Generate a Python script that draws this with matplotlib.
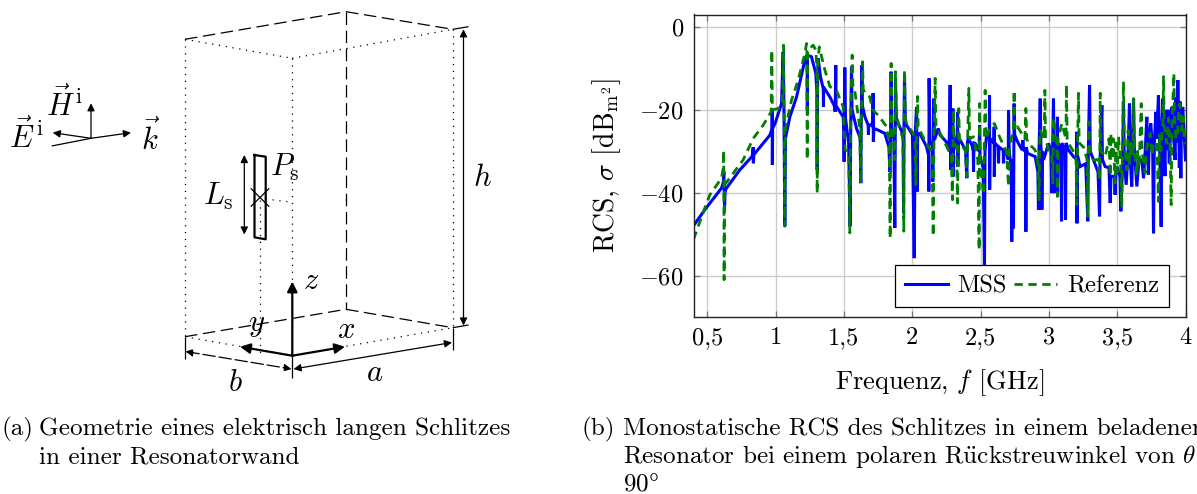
import matplotlib
matplotlib.use("Agg")
import matplotlib.pyplot as plt

plt.rcParams["font.family"] = ["cmr10", "Liberation Serif", "DejaVu Serif"]
plt.rcParams["mathtext.fontset"] = "cm"
plt.rcParams["axes.unicode_minus"] = False
plt.rcParams["axes.formatter.use_mathtext"] = True

# RCS curves: (f in GHz, sigma in dB)
mss = [(0.4, -48), (0.483, -44.1), (0.605, -38.9), (0.618, -37.5), (0.622, -34.9), (0.624, -38), (0.627, -43.7),
       (0.631, -40), (0.637, -39.1), (0.739, -34.5), (0.83, -31.2), (0.837, -29), (0.838, -32.9), (0.842, -30.8),
       (0.959, -26.1), (0.975, -24.5), (0.976, -20), (0.977, -33.3), (0.979, -24.5), (1.0, -23), (1.044, -18.5),
       (1.056, -6), (1.062, -20), (1.068, -48.1), (1.073, -27), (1.08, -25.7), (1.105, -21.7), (1.154, -16.9),
       (1.215, -8), (1.232, -6.8), (1.233, -20), (1.234, -6.8), (1.263, -7.2), (1.295, -11.2), (1.303, -16),
       (1.305, -34.5), (1.307, -16), (1.312, -7.6), (1.329, -12), (1.35, -15), (1.351, -19.3), (1.352, -14.5),
       (1.398, -16.9), (1.43, -19), (1.437, -20.5), (1.441, -9.2), (1.443, -19), (1.495, -21.7), (1.501, -25),
       (1.502, -32.5), (1.503, -25), (1.507, -9.8), (1.512, -22), (1.535, -28), (1.546, -48.1), (1.55, -26),
       (1.556, -9.6), (1.56, -20), (1.593, -24.5), (1.62, -26.9), (1.624, -37.7), (1.627, -24), (1.632, -9.2),
       (1.636, -19), (1.654, -21.7), (1.678, -23.7), (1.68, -26), (1.682, -24), (1.7, -23.5), (1.712, -24),
       (1.714, -16), (1.716, -27.7), (1.72, -24.5), (1.751, -24.9), (1.8, -25.7), (1.83, -29), (1.837, -35),
       (1.841, -28), (1.846, -10.8), (1.85, -25), (1.866, -27), (1.873, -48.5), (1.876, -26), (1.878, -12.8),
       (1.884, -22), (1.898, -23.3), (1.934, -26), (1.937, -44.9), (1.94, -25), (1.944, -11.6), (1.95, -23),
       (1.959, -23.7), (2.002, -26), (2.015, -55.8), (2.022, -26), (2.032, -19.3), (2.034, -27), (2.037, -39.7),
       (2.04, -26), (2.056, -25.7), (2.105, -28.9), (2.12, -31), (2.122, -39.7), (2.124, -12.4), (2.13, -28),
       (2.148, -28), (2.151, -37.3), (2.155, -26), (2.159, -17.3), (2.163, -27), (2.166, -27), (2.19, -24.5),
       (2.205, -26.1), (2.249, -27.7), (2.27, -30), (2.278, -14), (2.281, -28), (2.283, -34.5), (2.29, -26),
       (2.298, -19.7), (2.299, -36.1), (2.304, -27), (2.315, -28.1), (2.33, -26), (2.332, -20.5), (2.334, -33.7),
       (2.338, -27), (2.351, -27.3), (2.39, -29.7), (2.4, -36.5), (2.404, -28), (2.41, -26.9), (2.437, -28.5),
       (2.447, -30), (2.449, -34.9), (2.452, -28), (2.461, -28.1), (2.49, -30), (2.493, -23.7), (2.496, -31.3),
       (2.52, -34), (2.529, -57.8), (2.533, -30), (2.545, -26), (2.564, -27), (2.566, -16.5), (2.567, -39.3),
       (2.57, -27), (2.598, -28), (2.6, -24.1), (2.601, -36.1), (2.605, -28), (2.63, -28.9), (2.632, -32.9),
       (2.635, -29), (2.666, -29.7), (2.668, -32.9), (2.672, -30), (2.69, -30.5), (2.703, -32), (2.705, -20.1),
       (2.71, -30), (2.725, -34), (2.729, -51.8), (2.733, -32), (2.741, -48.6), (2.744, -28), (2.746, -18.5),
       (2.75, -26), (2.771, -27.7), (2.805, -29.7), (2.81, -27.3), (2.815, -29.7), (2.83, -30), (2.832, -49.4),
       (2.835, -29), (2.844, -30.5), (2.9, -31.3), (2.92, -35), (2.924, -44.1), (2.928, -30), (2.937, -17.3),
       (2.942, -29), (2.948, -31), (2.949, -44.1), (2.952, -30), (2.961, -32.1), (2.998, -28.1), (3.015, -30),
       (3.022, -40.1), (3.028, -29), (3.034, -17.3), (3.037, -30), (3.039, -40.1), (3.043, -29), (3.06, -28),
       (3.063, -21.7), (3.064, -40.9), (3.068, -28), (3.09, -30), (3.093, -46.9), (3.096, -28), (3.118, -30),
       (3.122, -46.5), (3.126, -28), (3.144, -29.7), (3.18, -31.3), (3.203, -32), (3.205, -25.3), (3.206, -47.4),
       (3.21, -31), (3.229, -33.7), (3.27, -33), (3.285, -46.9), (3.289, -30), (3.298, -14), (3.303, -30),
       (3.327, -32.1), (3.36, -35), (3.371, -45.7), (3.375, -32), (3.388, -18.9), (3.392, -32), (3.412, -33.7),
       (3.44, -34), (3.449, -42.5), (3.455, -36), (3.461, -36.1), (3.48, -36), (3.485, -40.5), (3.49, -36),
       (3.498, -33.7), (3.52, -36), (3.527, -44.5), (3.54, -33), (3.546, -18.1), (3.552, -32), (3.566, -38.1),
       (3.58, -30), (3.59, -18.5), (3.595, -32), (3.607, -38.5), (3.612, -30), (3.62, -17.3), (3.626, -30),
       (3.644, -38.5), (3.66, -32), (3.68, -32.1), (3.693, -36.5), (3.705, -30), (3.717, -21.7), (3.722, -30),
       (3.729, -35.7), (3.735, -26), (3.746, -23.3), (3.76, -30), (3.766, -49.8), (3.772, -28), (3.783, -20.5),
       (3.79, -27), (3.802, -16.5), (3.81, -27), (3.822, -48.2), (3.827, -26), (3.834, -17.3), (3.84, -25),
       (3.85, -36), (3.855, -20), (3.863, -29.7), (3.875, -20), (3.88, -33), (3.9, -19.3), (3.91, -25),
       (3.924, -32.1), (3.93, -17), (3.935, -28), (3.944, -12.8), (3.95, -22), (3.955, -34), (3.96, -18),
       (3.966, -36.5), (3.97, -22), (3.98, -19.3), (3.99, -26), (4.0, -32.1)]
ref = [(0.4, -51.3), (0.483, -43.7), (0.52, -40.5), (0.605, -36.5), (0.618, -34), (0.62, -29.8), (0.622, -36),
       (0.624, -61), (0.628, -38), (0.637, -37.7), (0.7, -34.9), (0.763, -32.1), (0.837, -26.9), (0.91, -23.7),
       (0.968, -20.5), (0.973, -5.6), (0.977, -20), (1.02, -19.7), (1.05, -18), (1.059, -4.4), (1.063, -20),
       (1.068, -48.1), (1.073, -25), (1.08, -23.3), (1.117, -17.7), (1.166, -12.8), (1.215, -6.4), (1.227, -4),
       (1.23, -6), (1.232, -32), (1.235, -6), (1.25, -5.2), (1.276, -4.4), (1.295, -5.6), (1.303, -10),
       (1.305, -40.1), (1.308, -10), (1.32, -4.8), (1.349, -8.8), (1.361, -10.4), (1.398, -14.4), (1.446, -15.3),
       (1.495, -19.3), (1.51, -29.7), (1.535, -30), (1.544, -49.7), (1.55, -22), (1.561, -6.8), (1.567, -15),
       (1.58, -15.3), (1.615, -24), (1.624, -37.7), (1.63, -20), (1.637, -8.4), (1.642, -15), (1.654, -16),
       (1.69, -16.9), (1.71, -20), (1.751, -21.3), (1.812, -24), (1.832, -28), (1.839, -51), (1.842, -26),
       (1.846, -8.8), (1.85, -22), (1.873, -32), (1.878, -10.8), (1.884, -20), (1.898, -23.3), (1.932, -27),
       (1.939, -49.3), (1.941, -24), (1.944, -10.4), (1.949, -22), (1.959, -23.3), (2.007, -25.7), (2.02, -27),
       (2.027, -38), (2.033, -25), (2.039, -16.8), (2.044, -24), (2.056, -25), (2.117, -28.9), (2.145, -30),
       (2.154, -50.5), (2.16, -26), (2.168, -12.4), (2.174, -24), (2.19, -24.5), (2.205, -25.7), (2.266, -29.7),
       (2.285, -30), (2.295, -41.7), (2.298, -29), (2.302, -20.1), (2.306, -28), (2.325, -29), (2.332, -42.5),
       (2.336, -28), (2.341, -19.7), (2.346, -27), (2.356, -28), (2.39, -30), (2.4, -36.1), (2.405, -28),
       (2.415, -14.8), (2.42, -27), (2.449, -26.5), (2.48, -32), (2.49, -53.8), (2.492, -30), (2.493, -18.5),
       (2.497, -32), (2.522, -40.5), (2.527, -30), (2.534, -15.3), (2.54, -27), (2.571, -24.1), (2.602, -23.3),
       (2.644, -26.9), (2.69, -30), (2.705, -38.5), (2.71, -30), (2.717, -28.1), (2.74, -25), (2.746, -15.3),
       (2.752, -25), (2.771, -24.1), (2.825, -27), (2.832, -19.7), (2.838, -27), (2.851, -28.1), (2.9, -29.7),
       (2.92, -33), (2.929, -41.7), (2.933, -28), (2.937, -25), (2.966, -27), (2.971, -15.3), (2.976, -27),
       (2.998, -29.7), (3.02, -30), (3.029, -37.7), (3.032, -28), (3.034, -22), (3.058, -28), (3.063, -40.9),
       (3.068, -27), (3.095, -23.3), (3.125, -27), (3.129, -14), (3.134, -27), (3.144, -28.1), (3.198, -31),
       (3.205, -42.9), (3.21, -28), (3.217, -16), (3.222, -28), (3.254, -29), (3.28, -32), (3.285, -45.7),
       (3.289, -30), (3.293, -22.9), (3.298, -30), (3.327, -32.1), (3.36, -32), (3.37, -36.9), (3.373, -30),
       (3.376, -16), (3.381, -30), (3.412, -31.3), (3.44, -27), (3.449, -36), (3.454, -25.7), (3.46, -32),
       (3.472, -27), (3.485, -37.7), (3.49, -28), (3.5, -35), (3.51, -26.5), (3.525, -33), (3.534, -43.3),
       (3.54, -28), (3.546, -13.2), (3.552, -28), (3.571, -34.5), (3.58, -25), (3.59, -33), (3.6, -28),
       (3.615, -31), (3.62, -17.3), (3.626, -30), (3.644, -36.1), (3.65, -30), (3.66, -34), (3.676, -18.5),
       (3.682, -30), (3.705, -35.3), (3.712, -30), (3.725, -28), (3.741, -25.7), (3.755, -31), (3.765, -28),
       (3.79, -28), (3.802, -42.1), (3.81, -26), (3.82, -30), (3.835, -22), (3.839, -12), (3.845, -24),
       (3.863, -28.1), (3.875, -22), (3.888, -30), (3.895, -42.9), (3.9, -25), (3.915, -11.2), (3.92, -22),
       (3.93, -27), (3.942, -25.7), (3.952, -19), (3.961, -18.5), (3.97, -25), (3.985, -21.7), (3.99, -28),
       (4.0, -28.1)]
mss_f, mss_db = zip(*mss)
ref_f, ref_db = zip(*ref)
x_ticks = [0.5, 1, 1.5, 2, 2.5, 3, 3.5, 4]
x_tick_labels = ["0,5", "1", "1,5", "2", "2,5", "3", "3,5", "4"]
y_ticks = [-60, -40, -20, 0]
y_tick_labels = ["$-60$", "$-40$", "$-20$", "$0$"]

W, H = 1197, 494
fig = plt.figure(figsize=(W / 100, H / 100), dpi=100)

# overlay in pixel units for the sketch and the captions
bg = fig.add_axes([0, 0, 1, 1])
bg.set_xlim(0, W)
bg.set_ylim(H, 0)
bg.axis("off")

DOT = (0, (1, 4.5))
DASH = (0, (10, 4.5))


def seg(x0, y0, x1, y1, ls="-", lw=0.9):
    bg.plot([x0, x1], [y0, y1], color="black", ls=ls, lw=lw, solid_capstyle="butt")


def arrow(x0, y0, x1, y1, style="-|>", lw=0.9, scale=11, ls="-"):
    bg.annotate("", xy=(x1, y1), xytext=(x0, y0),
                arrowprops=dict(arrowstyle=style, color="black", lw=lw, ls=ls, mutation_scale=scale,
                                shrinkA=0, shrinkB=0))


# box
seg(185, 39.3, 346, 11.7, DASH)
seg(346, 11.7, 452.7, 29.3, DASH)
seg(346, 11.7, 346, 309.3, DASH)
seg(185, 336.7, 346, 309.3, DASH)
seg(346, 309.3, 452.7, 327.7, DASH)
seg(185, 39.3, 185, 336.7, DOT)
seg(292.3, 58.3, 292.3, 355.7, DOT)
seg(452.7, 29.3, 452.7, 327.7, DOT)
seg(185, 39.3, 292.3, 58.3, DOT)
seg(292.3, 58.3, 452.7, 29.3, DOT)
seg(185, 336.7, 292.3, 355.7, DOT)
seg(292.3, 355.7, 452.7, 327.7, DOT)

# dimensions
seg(185, 336.7, 185, 358.5)
seg(292.3, 355.7, 292.3, 377.5)
seg(452.7, 327.7, 452.7, 349.5)
seg(452.7, 29.3, 468.5, 26.7)
seg(452.7, 327.7, 468.5, 325)
arrow(185.5, 351.5, 291.5, 369, "<|-|>", ls=(0, (10, 3)))
arrow(293.5, 369, 452, 342.5, "<|-|>")
arrow(463.5, 29.3, 463.5, 325.5, "<|-|>")

# coordinate system
arrow(292.3, 355.7, 292.3, 281.5, lw=1.6, scale=15)
arrow(292.3, 355.7, 345, 346.7, lw=1.6, scale=15)
arrow(292.3, 355.7, 240, 346.7, lw=1.6, scale=15)

# slot
bg.plot([254.5, 265.7, 265.7, 254.5, 254.5], [155, 156.7, 239.3, 237.3, 155], color="black", lw=1.6)
seg(250.7, 188.3, 269.3, 206.7)
seg(250.7, 206.7, 269.3, 188.3)
seg(265.7, 199, 292.3, 202.3, DOT)
seg(260, 200, 260, 353, DOT)
arrow(244.3, 155, 244.3, 234.5, "<|-|>")

# incident field
arrow(91, 138.3, 91, 103.3)
arrow(91, 138.3, 131, 132.7)
arrow(91, 138.3, 52.7, 132.7)
seg(91, 138.3, 51.7, 146)

for txt, x, y in [(r"$\vec{H}^{\,\mathrm{i}}$", 65, 104), (r"$\vec{E}^{\,\mathrm{i}}$", 26, 136),
                  (r"$\vec{k}$", 150, 137), (r"$L_{\mathrm{s}}$", 218, 196), (r"$P_{\mathrm{s}}$", 285, 167),
                  (r"$h$", 482, 178), (r"$z$", 311, 281), (r"$y$", 257, 325), (r"$x$", 346, 330),
                  (r"$a$", 375, 373), (r"$b$", 235, 383)]:
    bg.text(x, y, txt, ha="center", va="center", fontsize=22)

# captions
CAP = 18.1
bg.text(1, 435, "(a)", fontsize=CAP, va="baseline")
bg.text(39, 435, "Geometrie eines elektrisch langen Schlitzes", fontsize=CAP, va="baseline")
bg.text(39, 463, "in einer Resonatorwand", fontsize=CAP, va="baseline")
bg.text(582, 435, "(b)", fontsize=CAP, va="baseline")
bg.text(623, 435, "Monostatische RCS des Schlitzes in einem beladenen", fontsize=CAP, va="baseline")
bg.text(623, 463, r"Resonator bei einem polaren R$\ddot{\mathrm{u}}$ckstreuwinkel von $\theta$ =", fontsize=CAP,
        va="baseline")
bg.text(623, 490, r"90$\degree$", fontsize=CAP, va="baseline")

# chart
ax = fig.add_axes([693.5 / W, 1 - 317 / H, (1185.5 - 693.5) / W, (317 - 14.5) / H])
ax.plot(mss_f, mss_db, color="#0000ff", lw=2.2, label="MSS", solid_joinstyle="miter")
ax.plot(ref_f, ref_db, color="#007f00", lw=2, ls=(0, (3, 2)), label="Referenz")
ax.set_xlim(0.4, 4)
ax.set_ylim(-70, 3)
ax.set_xticks(x_ticks)
ax.set_xticklabels(x_tick_labels)
ax.set_yticks(y_ticks)
ax.set_yticklabels(y_tick_labels)
ax.grid(True, color="#cccccc", lw=1)
ax.set_axisbelow(True)
ax.tick_params(direction="in", top=True, right=True, length=4, width=0.9, color="#777777",
               labelsize=17.6, pad=7)
for s in ax.spines.values():
    s.set_linewidth(1)
    s.set_color("#222222")
ax.set_xlabel("Frequenz, $f$ [GHz]", fontsize=19, labelpad=13)
ax.set_ylabel(r"RCS, $\sigma$ [dB$_{\mathrm{m}^2}$]", fontsize=20, labelpad=12)
leg = ax.legend(ncol=2, loc="lower right", bbox_to_anchor=(0.9665, 0.033), fontsize=17.6, fancybox=False,
                framealpha=1, edgecolor="black", borderaxespad=0, handlelength=1.76, columnspacing=0.3,
                handletextpad=0.4, borderpad=0.4)
leg.get_frame().set_linewidth(0.9)

fig.savefig("out.png", dpi=100)
